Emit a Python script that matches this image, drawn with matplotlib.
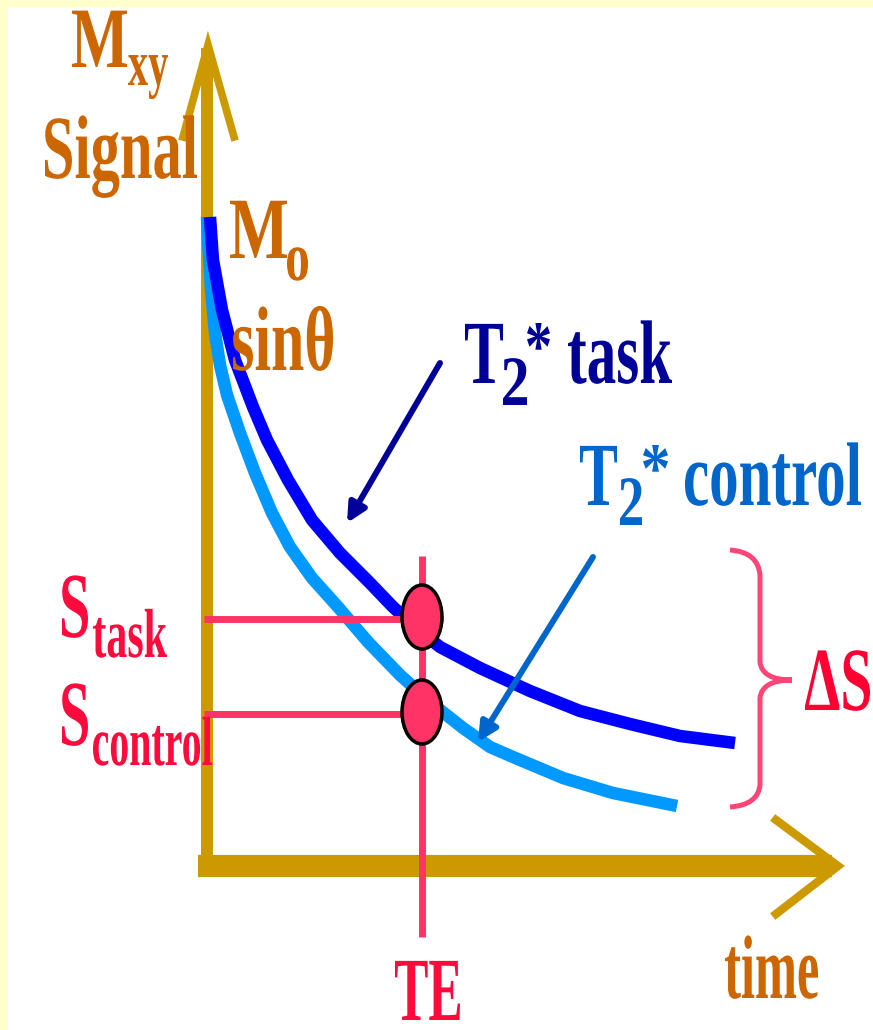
import matplotlib
matplotlib.use('Agg')
import matplotlib.pyplot as plt
import matplotlib.patheffects as pe
from matplotlib.patches import Ellipse, Rectangle, PathPatch
from matplotlib.path import Path
from matplotlib.textpath import TextPath
from matplotlib.transforms import Affine2D
from matplotlib.font_manager import FontProperties

# curve samples (pixel coords, y down)
task_x = [210, 213, 222, 235, 253, 267, 288, 312, 340, 370, 393, 415, 440, 480, 530, 580, 630, 680, 735]
task_y = [217, 260, 310, 360, 407, 440, 480, 520, 553, 583, 607, 627, 647, 668, 691, 711, 724, 736, 743]
ctrl_x = [207, 208, 211, 215, 220, 227, 240, 255, 272, 290, 312, 338, 368, 400, 430, 463, 490, 513, 563, 613, 677]
ctrl_y = [217, 240, 290, 333, 365, 395, 433, 473, 513, 547, 578, 607, 642, 675, 702, 728, 747, 757, 778, 793, 806]

te_x = 422
s_task = 619
s_control = 714

DPI = 100
FONT = FontProperties(family='Liberation Serif', weight='bold')


class Stretch(pe.AbstractPathEffect):
    # tall, narrow lettering like the original: grow the glyphs upward from the baseline
    def __init__(self, sy):
        super().__init__()
        self.sy = sy

    def draw_path(self, renderer, gc, tpath, affine, rgbFace=None):
        renderer.draw_path(gc, tpath, Affine2D().scale(1, self.sy) + affine, rgbFace)


fig = plt.figure(figsize=(8.73, 10.30), dpi=DPI, facecolor='#FFFFCC')
ax = fig.add_axes([0, 0, 1, 1])
ax.set_xlim(0, 873)
ax.set_ylim(1030, 0)
ax.axis('off')
ax.add_patch(Rectangle((8, 7), 900, 1100, facecolor='white', edgecolor='none', zorder=0))


def label(s, x0, x1, base, size, color, top=None):
    # font size picked so the ink spans x0..x1, height kept at `size`
    ext = TextPath((0, 0), s, size=size, prop=FONT).get_extents()
    k = DPI / 72
    f = (x1 - x0) / (ext.width * k)
    if top is not None:
        base = top + ext.y1 * k
    ax.text(x0 - ext.x0 * k * f, base, s, ha='left', va='baseline',
            family='Liberation Serif', fontweight='bold', fontsize=size * f,
            color=color, path_effects=[Stretch(1 / f)], zorder=6)


gold = '#CC9900'
orange = '#CC6600'
red = '#FF3366'

# axes
ax.plot([207, 207], [868, 48], color=gold, lw=8.6, solid_capstyle='butt', zorder=2)
ax.plot([183, 208, 234], [137, 45, 137], color=gold, lw=5.5, solid_joinstyle='miter', zorder=2)
ax.plot([198, 832], [866, 866], color=gold, lw=16, solid_capstyle='butt', zorder=2)
ax.plot([776, 838, 776], [820, 866, 914], color=gold, lw=6, solid_joinstyle='miter', zorder=2)

# decay curves
ax.plot(ctrl_x, ctrl_y, color='#0099FF', lw=9, solid_capstyle='butt', solid_joinstyle='round', zorder=3)
ax.plot(task_x, task_y, color='#0000FF', lw=9, solid_capstyle='butt', solid_joinstyle='round', zorder=3)

# TE and signal levels
ax.plot([te_x, te_x], [556, 937], color=red, lw=5, solid_capstyle='butt', zorder=4)
ax.plot([204, 443], [s_task, s_task], color=red, lw=5, solid_capstyle='butt', zorder=4)
ax.plot([204, 443], [s_control, s_control], color=red, lw=5, solid_capstyle='butt', zorder=4)
for yy in [s_task - 2, s_control - 2]:
    ax.add_patch(Ellipse((te_x, yy), 40, 64, facecolor=red, edgecolor='black', lw=2.5, zorder=5))

# pointer arrows
ax.annotate('', xy=(347, 523), xytext=(440, 363),
            arrowprops=dict(arrowstyle='-|>', color='#000099', lw=4.3, mutation_scale=28,
                            shrinkA=0, shrinkB=0), zorder=5)
ax.annotate('', xy=(478, 742), xytext=(593, 557),
            arrowprops=dict(arrowstyle='-|>', color='#0066CC', lw=4.3, mutation_scale=28,
                            shrinkA=0, shrinkB=0), zorder=5)

# brace for delta S
verts = [(730, 550), (758, 552), (760, 575), (760, 662), (762, 680), (792, 680),
         (762, 680), (760, 698), (760, 785), (758, 805), (730, 807)]
codes = [Path.MOVETO, Path.CURVE3, Path.CURVE3, Path.LINETO, Path.CURVE3, Path.CURVE3,
         Path.CURVE3, Path.CURVE3, Path.LINETO, Path.CURVE3, Path.CURVE3]
ax.add_patch(PathPatch(Path(verts, codes), facecolor='none', edgecolor='#FF4477', lw=3.6, zorder=4))

# texts
label('M', 72, 127, 67, 62, orange)
label('xy', 128, 168, 85, 47, orange)
label('Signal', 45, 197, 178, 65, orange)
label('M', 230, 287, 258, 63, orange)
label('o', 287, 308, 280, 50, orange)
label('sin\u03b8', 233, 333, 370, 66, orange)

label('T', 465, 503, 383, 65, '#000099')
label('2', 503, 527, 405, 51, '#000099')
label('*', 527, 550, 0, 51, '#000099', top=323)
label('task', 568, 672, 383, 65, '#000099')

label('T', 580, 617, 505, 65, '#0066CC')
label('2', 620, 642, 525, 51, '#0066CC')
label('*', 643, 668, 0, 51, '#0066CC', top=445)
label('control', 685, 861, 505, 65, '#0066CC')

label('S', 62, 88, 637, 67, '#FF0A3C')
label('task', 93, 167, 657, 50, '#FF0A3C')
label('S', 62, 88, 745, 67, '#FF0A3C')
label('control', 93, 212, 765, 50, '#FF0A3C')

label('\u0394S', 805, 870, 710, 65, '#FF0033')
label('TE', 395, 460, 1020, 65, '#FF0A3C')
label('time', 725, 818, 998, 65, orange)

fig.savefig('out.png', dpi=DPI, facecolor=fig.get_facecolor())
